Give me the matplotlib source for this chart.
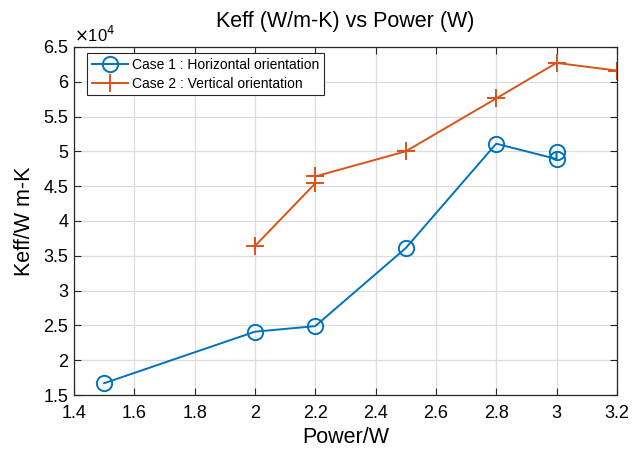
import matplotlib
matplotlib.use("Agg")
import matplotlib.pyplot as plt
from matplotlib.ticker import FuncFormatter, MultipleLocator

plt.rcParams["font.family"] = ["Liberation Sans", "DejaVu Sans"]

# Case 1 : horizontal orientation (two readings at 3 W)
power_h = [1.5, 2.0, 2.2, 2.5, 2.8, 3.0, 3.0]
keff_h = [16700, 24100, 24900, 36100, 51100, 48900, 49900]

# Case 2 : vertical orientation (two readings at 2.2 W)
power_v = [2.0, 2.2, 2.2, 2.5, 2.8, 3.0, 3.2]
keff_v = [36400, 45400, 46400, 50000, 57600, 62700, 61600]

blue = "#0072BD"
orange = "#D95319"

fig = plt.figure(figsize=(6.32, 4.51), dpi=100)
ax = fig.add_axes([0.117, 0.124, 0.859, 0.772])

ax.plot(power_h, keff_h, color=blue, linewidth=1.4, marker="o", markersize=11,
        markerfacecolor="none", markeredgewidth=1.4,
        label="Case 1 : Horizontal orientation")
ax.plot(power_v, keff_v, color=orange, linewidth=1.4, marker="+", markersize=13,
        markeredgewidth=1.4, label="Case 2 : Vertical orientation")

ax.set_xlim(1.4, 3.2)
ax.set_ylim(15000, 65000)
ax.xaxis.set_major_locator(MultipleLocator(0.2))
ax.yaxis.set_major_locator(MultipleLocator(5000))
ax.xaxis.set_major_formatter(FuncFormatter(lambda v, p: f"{v:g}"))
ax.yaxis.set_major_formatter(FuncFormatter(lambda v, p: f"{v / 1e4:g}"))
ax.text(0.0, 1.005, r"$\times$10$^4$", transform=ax.transAxes, fontsize=12,
        ha="left", va="bottom")

ax.grid(True, color="#dcdcdc", linewidth=0.9)
ax.set_axisbelow(True)
ax.tick_params(direction="in", top=True, right=True, labelsize=13,
               length=5, width=0.8, colors="#262626", labelcolor="black")
ax.tick_params(axis="x", pad=7)
ax.tick_params(axis="y", pad=4)
for side in ax.spines.values():
    side.set_color("#262626")
    side.set_linewidth(0.9)

ax.set_title("Keff (W/m-K) vs Power (W)", fontsize=15.5, pad=14)
ax.set_xlabel("Power/W", fontsize=15.5, labelpad=4)
ax.set_ylabel("Keff/W m-K", fontsize=15.5, labelpad=6)

leg = ax.legend(loc="upper left", bbox_to_anchor=(0.024, 0.983), fontsize=10,
                handlelength=2.6, handletextpad=0.3, borderpad=0.35,
                labelspacing=0.35, fancybox=False, framealpha=1,
                borderaxespad=0)
leg.get_frame().set_edgecolor("#262626")
leg.get_frame().set_linewidth(0.8)

fig.savefig("out.png", dpi=100)
